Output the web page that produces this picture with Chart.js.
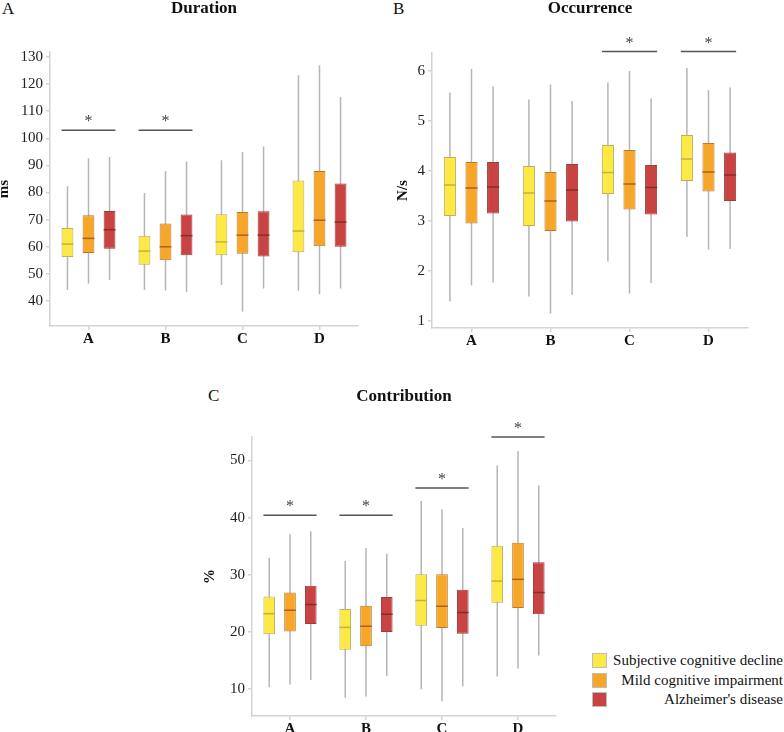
<!DOCTYPE html>
<html>
<head>
<meta charset="utf-8">
<script src="https://cdn.jsdelivr.net/npm/chart.js@4.4.1/dist/chart.umd.min.js"></script>
<style>
  body { margin: 0; width: 784px; height: 732px; overflow: hidden; background: #fff; position: relative;
         font-family: 'Liberation Serif', 'DejaVu Serif', 'Noto Serif', 'Times New Roman', Times, serif; color: #111; }
  canvas { position: absolute; }
  .tag { position: absolute; font-size: 17px; line-height: 17px; }
  .legend { position: absolute; left: 592px; top: 651px; width: 191px; font-size: 15px; }
  .row { display: flex; align-items: center; height: 19.5px; }
  .sw { width: 13px; height: 13px; border: 1px solid #bdbdbd; flex: none; }
  .lt { flex: 1; text-align: right; white-space: nowrap; }
</style>
</head>
<body>
<div class="tag" style="left:2px;top:0px">A</div>
<div class="tag" style="left:393px;top:0px">B</div>
<div class="tag" style="left:208px;top:387px">C</div>

<canvas id="dur" width="400" height="345" style="left:0;top:0"></canvas>
<canvas id="occ" width="404" height="345" style="left:380px;top:0"></canvas>
<canvas id="con" width="400" height="372" style="left:190px;top:360px"></canvas>

<div class="legend" id="legend"></div>

<script>
const categories = ['A', 'B', 'C', 'D'];
const groups = ['Subjective cognitive decline', 'Mild cognitive impairment', "Alzheimer's disease"];
const fillColors = ['#fde944', '#f8a628', '#c94343'];
const edgeColors = ['#bcae62', '#b57c30', '#9c3d3d'];
const medianColors = ['#c5b13e', '#a5651e', '#862d2d'];

// each row: [min, q1, median, q3, max] for A, B, C, D
const durationSCD = [[44.1, 56.2, 61.0, 66.9, 82.3], [44.1, 53.4, 58.4, 64.1, 79.8], [45.9, 56.9, 61.8, 72.0, 91.9], [43.8, 58.0, 65.8, 84.4, 123.2]];
const durationMCI = [[46.4, 57.7, 63.1, 71.6, 92.6], [43.9, 55.0, 60.0, 68.6, 87.9], [36.1, 57.4, 64.3, 72.8, 94.9], [42.5, 60.2, 69.8, 87.9, 126.9]];
const durationAD  = [[47.8, 59.3, 66.3, 73.2, 93.1], [43.3, 56.9, 64.1, 71.9, 91.4], [44.6, 56.4, 64.3, 73.1, 97.0], [44.6, 60.0, 69.1, 83.3, 115.2]];

const occurrenceSCD = [[1.39, 3.10, 3.72, 4.28, 5.57], [1.49, 2.90, 3.56, 4.10, 5.43], [2.19, 3.54, 3.97, 4.52, 5.77], [2.68, 3.80, 4.24, 4.72, 6.06]];
const occurrenceMCI = [[1.71, 2.95, 3.66, 4.18, 6.04], [1.15, 2.80, 3.40, 3.98, 5.73], [1.55, 3.23, 3.74, 4.42, 6.00], [2.43, 3.59, 3.98, 4.56, 5.62]];
const occurrenceAD  = [[1.77, 3.15, 3.68, 4.18, 5.69], [1.52, 2.99, 3.62, 4.14, 5.40], [1.76, 3.13, 3.67, 4.12, 5.45], [2.44, 3.40, 3.92, 4.37, 5.67]];

const contributionSCD = [[10.35, 19.6, 23.2, 26.2, 33.0], [8.5, 16.9, 20.8, 24.0, 32.4], [10.0, 21.1, 25.5, 30.1, 42.9], [12.2, 25.1, 28.9, 35.1, 49.1]];
const contributionMCI = [[10.8, 20.1, 23.8, 26.9, 37.1], [8.7, 17.5, 21.0, 24.6, 34.7], [7.9, 20.7, 24.5, 30.1, 41.4], [13.6, 24.2, 29.2, 35.6, 51.6]];
const contributionAD  = [[11.6, 21.4, 24.8, 28.1, 37.6], [12.3, 20.0, 23.1, 26.1, 33.7], [10.5, 19.7, 23.4, 27.4, 38.2], [15.9, 23.1, 26.9, 32.2, 45.6]];

const durationTicks = [40, 50, 60, 70, 80, 90, 100, 110, 120, 130];
const occurrenceTicks = [1, 2, 3, 4, 5, 6];
const contributionTicks = [10, 20, 30, 40, 50];

// significance bars: category and height in data units
const durationSig = [['A', 103], ['B', 103]];
const occurrenceSig = [['C', 6.39], ['D', 6.39]];
const contributionSig = [['A', 40.4], ['B', 40.4], ['C', 45.2], ['D', 54.1]];

const serif = "'Liberation Serif', 'DejaVu Serif', 'Noto Serif', 'Times New Roman', Times, serif";

function extras(series, sig) {
  return {
    id: 'boxExtras',
    afterDatasetsDraw(chart) {
      const ctx = chart.ctx;
      const y = chart.scales.y;
      ctx.save();
      // medians
      series.forEach((rows, i) => {
        const meta = chart.getDatasetMeta(i);
        meta.data.forEach((el, j) => {
          const py = y.getPixelForValue(rows[j][2]);
          ctx.strokeStyle = medianColors[i];
          ctx.lineWidth = 1.5;
          ctx.beginPath();
          ctx.moveTo(el.x - el.width / 2, py);
          ctx.lineTo(el.x + el.width / 2, py);
          ctx.stroke();
        });
      });
      // significance
      sig.forEach(([cat, val]) => {
        const j = categories.indexOf(cat);
        const first = chart.getDatasetMeta(0).data[j];
        const last = chart.getDatasetMeta(2).data[j];
        const x1 = first.x - first.width / 2;
        const x2 = last.x + last.width / 2;
        const py = y.getPixelForValue(val);
        ctx.strokeStyle = '#555';
        ctx.lineWidth = 1.5;
        ctx.beginPath();
        ctx.moveTo(x1, py);
        ctx.lineTo(x2, py);
        ctx.stroke();
        ctx.fillStyle = '#444';
        ctx.font = '16px ' + serif;
        ctx.textAlign = 'center';
        ctx.textBaseline = 'alphabetic';
        ctx.fillText('*', (x1 + x2) / 2, py - 4);
      });
      ctx.restore();
    }
  };
}

function panel(id, p) {
  const boxes = p.series.map((rows, i) => ({
    label: groups[i],
    data: rows.map(r => [r[1], r[3]]),
    stack: 'g' + i,
    order: 1,
    backgroundColor: fillColors[i],
    borderColor: edgeColors[i],
    borderWidth: 1,
    borderSkipped: false,
    categoryPercentage: 0.82,
    barPercentage: 0.56
  }));
  const whiskers = p.series.map((rows, i) => ({
    label: groups[i] + ' range',
    data: rows.map(r => [r[0], r[4]]),
    stack: 'g' + i,
    order: 2,
    backgroundColor: '#b5b5b5',
    borderWidth: 0,
    categoryPercentage: 0.82,
    barPercentage: 0.56,
    maxBarThickness: 1.5
  }));

  new Chart(document.getElementById(id), {
    type: 'bar',
    data: { labels: categories, datasets: boxes.concat(whiskers) },
    options: {
      responsive: false,
      animation: false,
      events: [],
      layout: { padding: p.pad },
      plugins: {
        legend: { display: false },
        tooltip: { enabled: false },
        title: {
          display: true,
          text: p.title,
          fullSize: false,
          color: '#111',
          font: { family: serif, size: 17, weight: 'bold', lineHeight: 1.2 },
          padding: p.titlePad
        }
      },
      scales: {
        x: {
          stacked: true,
          afterFit: s => { s.height = p.xHeight; },
          grid: { display: true, drawOnChartArea: false, offset: false, tickLength: 4, color: '#d3d3d3', lineWidth: 1.5 },
          border: { color: '#d3d3d3', width: 1.5 },
          ticks: { color: '#111', padding: 0, font: { family: serif, size: 15, weight: 'bold' } }
        },
        y: {
          stacked: false,
          min: p.min,
          max: p.max,
          afterFit: s => { s.width = p.yWidth; },
          afterBuildTicks: s => { s.ticks = p.ticks.map(v => ({ value: v })); },
          grid: { display: true, drawOnChartArea: false, tickLength: 4, color: '#d3d3d3', lineWidth: 1.5 },
          border: { color: '#d3d3d3', width: 1.5 },
          ticks: { color: '#222', padding: 3, font: { family: serif, size: 15 } },
          title: {
            display: true,
            text: p.yTitle,
            color: '#111',
            padding: { top: p.yTitleOff, bottom: 0 },
            font: { family: serif, size: 15, weight: 'bold', lineHeight: 1 }
          }
        }
      }
    },
    plugins: [extras(p.series, p.sig)]
  });
}

panel('dur', {
  title: 'Duration', yTitle: 'ms',
  series: [durationSCD, durationMCI, durationAD], sig: durationSig, ticks: durationTicks,
  min: 30.8, max: 131.8,
  pad: { left: 0, right: 42, top: 0, bottom: 0 }, yWidth: 50, xHeight: 19,
  titlePad: { top: -1.5, bottom: 33.1 }, yTitleOff: -3
});

panel('occ', {
  title: 'Occurrence', yTitle: 'N/s',
  series: [occurrenceSCD, occurrenceMCI, occurrenceAD], sig: occurrenceSig, ticks: occurrenceTicks,
  min: 0.86, max: 6.36,
  pad: { left: 16, right: 36, top: 0, bottom: 0 }, yWidth: 36, xHeight: 17,
  titlePad: { top: -1.5, bottom: 34.1 }, yTitleOff: 0
});

panel('con', {
  title: 'Contribution', yTitle: '%',
  series: [contributionSCD, contributionMCI, contributionAD], sig: contributionSig, ticks: contributionTicks,
  min: 5.3, max: 54.1,
  pad: { left: 14, right: 34, top: 0, bottom: 0 }, yWidth: 48, xHeight: 16,
  titlePad: { top: 26, bottom: 30.6 }, yTitleOff: -1
});

// legend
const legend = document.getElementById('legend');
groups.forEach((g, i) => {
  const row = document.createElement('div');
  row.className = 'row';
  row.innerHTML = '<div class="sw" style="background:' + fillColors[i] + '"></div><div class="lt">' + g + '</div>';
  legend.appendChild(row);
});
</script>
</body>
</html>
